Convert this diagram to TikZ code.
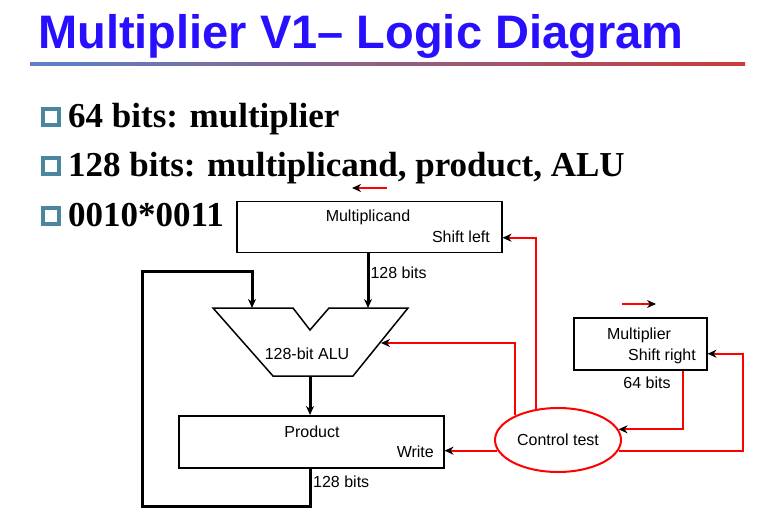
\documentclass[tikz,border=0pt]{standalone}
\usepackage{fontspec}
\setmainfont{Liberation Serif}
\setsansfont{Liberation Sans}
\usetikzlibrary{shapes.geometric, arrows.meta, positioning, calc}
\definecolor{titleblue}{RGB}{40,16,255}
\definecolor{bulletteal}{RGB}{74,134,160}
\definecolor{rulebluel}{RGB}{90,130,200}
\definecolor{ruleredr}{RGB}{200,60,60}

\begin{document}
\begin{tikzpicture}[x=1pt, y=-1pt,
    >=Stealth,
    reg/.style={rectangle, draw=black, line width=1.5pt, inner sep=0pt, anchor=north west},
    lbl/.style={font=\sffamily\fontsize{16}{16}\selectfont, inner sep=0pt},
    item/.style={anchor=base west, inner sep=0pt, font=\bfseries\fontsize{35}{35}\selectfont},
    bullet/.style={rectangle, draw=bulletteal, line width=4pt, minimum size=16pt, inner sep=0pt},
    bus/.style={-{Stealth[length=9pt,width=8pt]}, line width=3pt},
    ctrl/.style={red, line width=2pt, -{Stealth[black,length=9pt,width=8pt]}}
]
\useasboundingbox (0,0) rectangle (778,526);

% title and rule
\node[anchor=base west, inner sep=0pt, text=titleblue,
      font=\sffamily\bfseries\fontsize{47}{47}\selectfont] (title) at (38,49) {Multiplier V1– Logic Diagram};
\shade[left color=rulebluel, right color=ruleredr] (30,63) rectangle (745,65.5);

% bullet list
\foreach \y/\txt in {128/{64 bits: multiplier}, 177/{128 bits: multiplicand, product, ALU}, 227/{0010*0011}} {
    \node[bullet] (bul\y) at (50.5,\y-10.5) {};
    \node[item] (item\y) at (68,\y) {\txt};
}

% registers
\node[reg, minimum width=265pt, minimum height=51pt] (mcand) at (236,201) {};
\node[lbl, anchor=base] (mcandname) at (368,222) {Multiplicand};
\node[lbl, anchor=base east] (shl) at (490,243) {Shift left};

\node[reg, minimum width=265pt, minimum height=52pt] (prod) at (178,415) {};
\node[lbl, anchor=base] (prodname) at (312,437) {Product};
\node[lbl, anchor=base east] (wr) at (434,457) {Write};

\node[reg, minimum width=133pt, minimum height=52pt] (mplier) at (573,317) {};
\node[lbl, anchor=base] (mpliername) at (639,339) {Multiplier};
\node[lbl, anchor=base east] (shr) at (696,360) {Shift right};
\node[lbl, anchor=base] (mplierbits) at (647,388) {64 bits};

% ALU
\draw[line width=1.5pt, line join=miter] (213,308) -- (293,308) -- (310,330) -- (329,308)
    -- (408,308) -- (353,376) -- (273,376) -- cycle;
\node[lbl, anchor=base] (alu) at (307,359) {128-bit ALU};
\coordinate (aluA) at (252,308);
\coordinate (aluB) at (368,308);
\coordinate (aluOut) at (310,376);
\coordinate (aluR) at (381,343);

% control
\node[ellipse, draw=red, line width=2pt, minimum width=126pt, minimum height=64pt,
      inner sep=0pt, font=\sffamily\fontsize{16}{16}\selectfont] (ctl) at (558,440) {Control test};

% data paths
\draw[bus] (mcand.south -| aluB) -- node[lbl, right=1pt, pos=0.35] (mcandbits) {128 bits} (aluB);
\draw[bus] (aluOut) -- (prod.north -| aluOut);
\draw[bus, line join=miter] (prod.south -| aluOut) -- ++(0,38) -| (142,272) -| (aluA);
\node[lbl, anchor=base west] (prodbits) at (313,487) {128 bits};

% control paths
\draw[ctrl] (ctl.125) |- ([yshift=-10.5pt]mcand.east);
\draw[ctrl] (ctl.150) |- (aluR);
\draw[ctrl] (ctl.190) -- (ctl.190 -| prod.east);
\draw[ctrl] ([xshift=-25pt]mplier.south east) |- (ctl.10);
\draw[ctrl] (ctl.-10) -| ($(mplier.east)+(35,10)$) -- ([yshift=-10pt]mplier.east);

% shift direction marks
\draw[ctrl] ([xshift=151pt,yshift=13pt]mcand.north west) -- ++(-35,0);
\draw[ctrl] ([xshift=49pt,yshift=13pt]mplier.north west) -- ++(34,0);
\end{tikzpicture}
\end{document}
